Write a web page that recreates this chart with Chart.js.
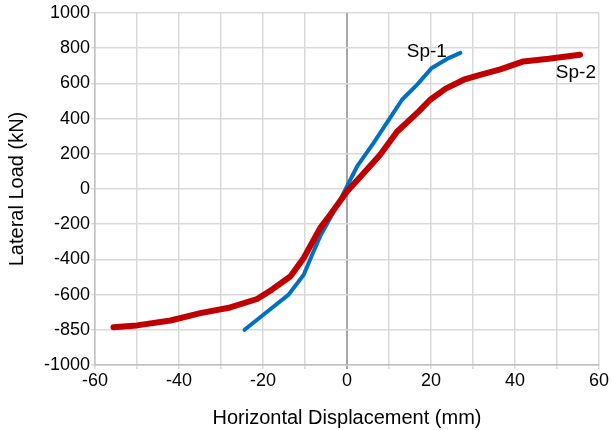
<!DOCTYPE html>
<html>
<head>
<meta charset="utf-8">
<script src="https://cdn.jsdelivr.net/npm/chart.js@4.4.1/dist/chart.umd.min.js"></script>
<style>
  html, body { margin: 0; padding: 0; background: #ffffff; }
  #wrap { width: 612px; height: 430px; position: relative; }
</style>
</head>
<body>
<div id="wrap"><canvas id="loadChart" width="612" height="430"></canvas></div>
<script>
/* Lateral load vs horizontal displacement, two specimens */

// Sp-1 envelope (blue)
const sp1Disp = [-24.4, -21.4, -17.9, -13.9, -10.3, -8.3, -6.4, -4.0, -2.0, -0.4, 2.4, 6.3, 10.3, 13.1, 16.7, 20.2, 23.8, 27.0];
const sp1Load = [-800, -743, -676, -600, -487, -373, -269, -165, -80, -4, 128, 261, 405, 507, 593, 688, 739, 773];

// Sp-2 envelope (red)
const sp2Disp = [-55.6, -50.0, -42.0, -34.9, -27.8, -21.4, -17.9, -13.5, -10.3, -6.4, -4.0, 0, 4.0, 7.9, 11.9, 17.1, 19.8, 23.5, 27.8, 31.7, 36.5, 42.0, 48.0, 55.5];
const sp2Load = [-786, -775, -747, -705, -673, -625, -572, -497, -392, -222, -146, -14, 91, 195, 325, 441, 507, 570, 621, 649, 680, 725, 740, 763];

// axis ticks as printed on the original figure
const xGridValues = [-60, -50, -40, -30, -20, -10, 0, 10, 20, 30, 40, 50, 60];
const xTickValues = [-60, -40, -20, 0, 20, 40, 60];
const yTickValues = [1000, 800, 600, 400, 200, 0, -200, -400, -600, -800, -1000];
const yTickLabels = ['1000', '800', '600', '400', '200', '0', '-200', '-400', '-600', '-850', '-1000'];

const seriesNames = ['Sp-1', 'Sp-2'];
const seriesColors = ['#0070c0', '#c00000'];

// where the series names sit (data units)
const nameAnchors = [
    { x: 19.0, y: 780 },
    { x: 54.5, y: 660 }
];

const toPoints = (xs, ys) => xs.map((x, i) => ({ x: x, y: ys[i] }));

const FONT = "'Liberation Sans', Arial, sans-serif";

const seriesNamePlugin = {
    id: 'seriesNames',
    afterDatasetsDraw(chart) {
        const ctx = chart.ctx;
        const xs = chart.scales.x;
        const ys = chart.scales.y;
        ctx.save();
        ctx.font = '19px ' + FONT;
        ctx.fillStyle = '#000000';
        ctx.textAlign = 'center';
        ctx.textBaseline = 'middle';
        nameAnchors.forEach((a, i) => {
            ctx.fillText(seriesNames[i], xs.getPixelForValue(a.x), ys.getPixelForValue(a.y));
        });
        ctx.restore();
    }
};

new Chart(document.getElementById('loadChart'), {
    type: 'scatter',
    data: {
        datasets: [
            {
                label: seriesNames[0],
                data: toPoints(sp1Disp, sp1Load),
                showLine: true,
                borderColor: seriesColors[0],
                borderWidth: 4,
                borderCapStyle: 'round',
                borderJoinStyle: 'round',
                pointRadius: 0,
                tension: 0,
                order: 2
            },
            {
                label: seriesNames[1],
                data: toPoints(sp2Disp, sp2Load),
                showLine: true,
                borderColor: seriesColors[1],
                borderWidth: 6,
                borderCapStyle: 'round',
                borderJoinStyle: 'round',
                pointRadius: 0,
                tension: 0,
                order: 1
            }
        ]
    },
    options: {
        responsive: false,
        animation: false,
        devicePixelRatio: 1,
        layout: { padding: { top: 13, right: 13, left: 0, bottom: 0 } },
        plugins: {
            legend: { display: false },
            tooltip: { enabled: false }
        },
        scales: {
            x: {
                type: 'linear',
                min: -60,
                max: 60,
                afterFit: (s) => { s.height = 65; },
                afterBuildTicks: (s) => { s.ticks = xGridValues.map(v => ({ value: v })); },
                ticks: {
                    color: '#000000',
                    font: { family: FONT, size: 18 },
                    padding: 1,
                    maxRotation: 0,
                    autoSkip: false,
                    callback: (v) => xTickValues.includes(v) ? String(v) : ''
                },
                grid: {
                    color: (c) => c.tick && c.tick.value === 0 ? '#a6a6a6' : '#d9d9d9',
                    lineWidth: (c) => c.tick && c.tick.value === 0 ? 2 : 1.5,
                    tickLength: 4
                },
                border: { color: '#bfbfbf', width: 1.5 },
                title: {
                    display: true,
                    text: 'Horizontal Displacement (mm)',
                    color: '#000000',
                    font: { family: FONT, size: 20 },
                    padding: { top: 5, bottom: 0 }
                }
            },
            y: {
                type: 'linear',
                min: -1000,
                max: 1000,
                afterFit: (s) => { s.width = 95; },
                afterBuildTicks: (s) => { s.ticks = yTickValues.map(v => ({ value: v })); },
                ticks: {
                    color: '#000000',
                    font: { family: FONT, size: 18 },
                    padding: 1,
                    autoSkip: false,
                    callback: (v) => {
                        const i = yTickValues.indexOf(v);
                        return i >= 0 ? yTickLabels[i] : '';
                    }
                },
                grid: {
                    color: '#d9d9d9',
                    lineWidth: 1.5,
                    tickLength: 4
                },
                border: { color: '#bfbfbf', width: 1.5 },
                title: {
                    display: true,
                    text: 'Lateral Load (kN)',
                    color: '#000000',
                    font: { family: FONT, size: 20 },
                    padding: { top: 5, bottom: 4 }
                }
            }
        }
    },
    plugins: [seriesNamePlugin]
});
</script>
</body>
</html>
